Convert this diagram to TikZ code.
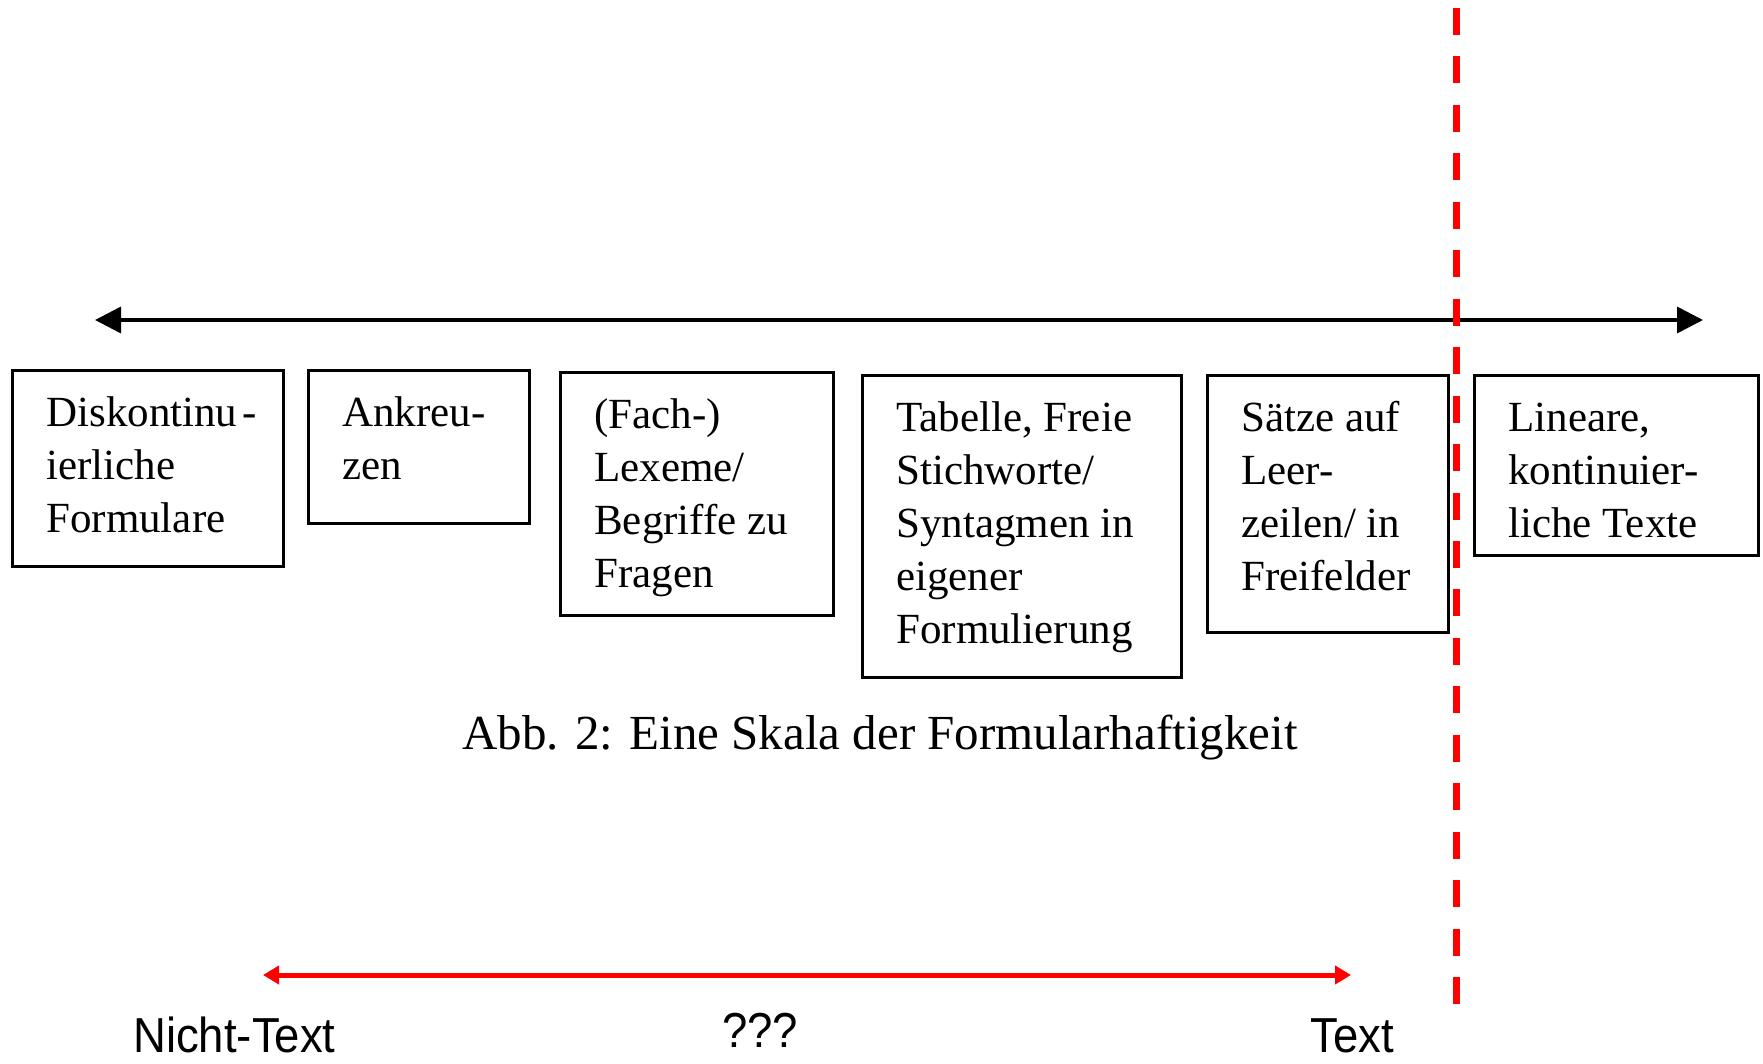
\documentclass[tikz,border=0pt]{standalone}
\usepackage{fontspec}
\setmainfont{Liberation Serif}
\newfontfamily\labelsans{Liberation Sans}
\usetikzlibrary{arrows.meta}
\newcommand\boxtext[3]{\parbox[t][#2pt][t]{#1pt}{\raggedright\leftskip=34pt\parindent=0pt\baselineskip=53pt\rule{0pt}{56pt}#3}}
\tikzset{
  formbox/.style={draw, line width=2.6pt, inner sep=0pt, anchor=north west,
    font=\fontsize{43pt}{53pt}\selectfont},
  captiontext/.style={inner sep=0pt, anchor=base west, font=\fontsize{49pt}{58pt}\selectfont},
  sidelabel/.style={inner sep=0pt, anchor=base west, yscale=1.08, font=\labelsans\fontsize{45.5pt}{54pt}\selectfont},
  scalearrow/.style={line width=3.5pt, {Triangle[length=26pt,width=26pt]}-{Triangle[length=26pt,width=26pt]}},
  redarrow/.style={draw=red, line width=5pt, {Triangle[length=16pt,width=18pt]}-{Triangle[length=16pt,width=18pt]}, red},
  reddash/.style={draw=red, line width=7pt, dash pattern=on 27pt off 21.45pt}
}
\begin{document}
\begin{tikzpicture}[x=1pt,y=-1pt]
\useasboundingbox (0,0) rectangle (1763,1064);
% scale arrow
\coordinate (sl) at (95,320);
\coordinate (sr) at (1703,320);
\draw[scalearrow] (sl) -- (sr);
% red dashed separator
\coordinate (dtop) at (1456,8);
\coordinate (dbot) at (1456,1005);
\draw[reddash] (dtop) -- (dbot);
% boxes
\node[formbox] (b1) at (11,369) {\boxtext{271}{196}{Diskontinu\kern5pt-\\ierliche\\Formulare}};
\node[formbox] (b2) at (307,369) {\boxtext{221}{153}{Ankreu-\\zen}};
\node[formbox] (b3) at (559,371) {\boxtext{273}{243}{(Fach-)\\Lexeme/\\Begriffe zu\\Fragen}};
\node[formbox] (b4) at (861,374) {\boxtext{319}{302}{Tabelle, Freie\\Stichworte/\\Syntagmen in\\eigener\\Formulierung}};
\node[formbox] (b5) at (1206,374) {\boxtext{241}{257}{S\"atze auf\\Leer-\\zeilen/ in\\Freifelder}};
\node[formbox] (b6) at (1473,374) {\boxtext{284}{180}{Lineare,\\kontinuier-\\liche Texte}};
% caption
\node[captiontext] (cap) at (462,749) {Abb. 2: Eine Skala der Formularhaftigkeit};
% red arrow
\coordinate (rl) at (263,975);
\coordinate (rr) at (1351,975);
\draw[redarrow] (rl) -- (rr);
% labels
\node[sidelabel] (nt) at (133,1052) {Nicht-Text};
\node[sidelabel] (qq) at (722,1047) {???};
\node[sidelabel] (tx) at (1310,1052) {Text};
\end{tikzpicture}
\end{document}
